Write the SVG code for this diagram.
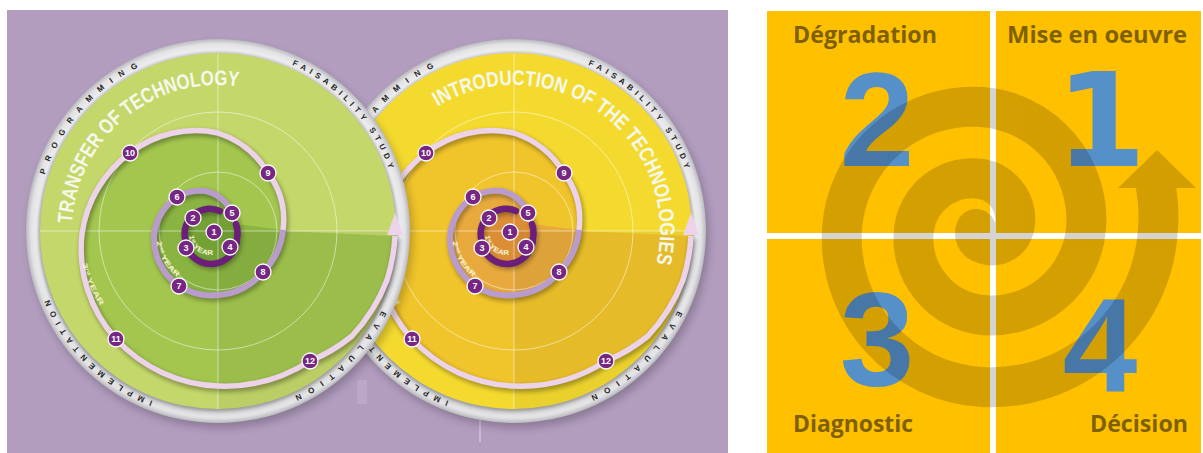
<svg xmlns="http://www.w3.org/2000/svg" width="1203" height="453" viewBox="0 0 1203 453">
<defs>
<style>
.rt{font-family:'Liberation Sans',Arial,sans-serif;font-weight:bold;font-size:8px;fill:#262626}
.ttl{font-family:'Liberation Sans Narrow','Liberation Sans',Arial,sans-serif;font-weight:bold;font-size:21px;fill:#f7f8ec}
.nd circle{fill:#772783;stroke:#fff;stroke-width:1.3}
.nd text{font-family:'Liberation Sans',Arial,sans-serif;font-weight:bold;font-size:9px;fill:#fff;text-anchor:middle}
.yr{font-family:'Liberation Sans',Arial,sans-serif;font-weight:bold;font-size:7px;fill:#f5f2d0}
.gd{stroke:#fff;stroke-opacity:.5;stroke-width:1;fill:none}
.lbl{font-family:'Open Sans','Liberation Sans',sans-serif;font-weight:bold;font-size:23px;fill:#7f6000}
.big{font-family:'Liberation Sans',Arial,sans-serif;font-weight:bold;font-size:134px;fill:#5590c8;text-anchor:middle}
</style>
<radialGradient id="ring" cx=".5" cy=".5" r=".5">
<stop offset=".92" stop-color="#c6c6ca"/>
<stop offset=".945" stop-color="#ededef"/>
<stop offset=".975" stop-color="#e2e2e5"/>
<stop offset="1" stop-color="#b8b8be"/>
</radialGradient>
<filter id="b4" x="-20%" y="-20%" width="140%" height="140%"><feGaussianBlur stdDeviation="4"/></filter>
<filter id="b2" x="-20%" y="-20%" width="140%" height="140%"><feGaussianBlur stdDeviation="2"/></filter>
<clipPath id="dc"><circle cx="218" cy="231" r="178"/></clipPath>
<path id="regA" d="M283 231A78 78 0 0 0 268 173A92 92 0 0 0 218 133A107 107 0 0 0 130 153A121 121 0 0 0 82 234A134 134 0 0 0 116 339A146 146 0 0 0 218 386A157 157 0 0 0 310 361A168 168 0 0 0 352 336A175 175 0 0 0 387 280A180 180 0 0 0 395 236Z"/>
<path id="regB" d="M236 224A29 29 0 0 0 232 213A37 37 0 0 0 205 191A46 46 0 0 0 177 197A53 53 0 0 0 154 236A58 58 0 0 0 179 286A61 61 0 0 0 218 295A63 63 0 0 0 263 272A69 69 0 0 0 283 230Z"/>
<path id="sp1" d="M220 211A25 25 0 0 0 185 238A26 26 0 0 0 237 238A26 26 0 0 0 236 224"/>
<path id="sp2" d="M236 224A29 29 0 0 0 232 213A37 37 0 0 0 205 191A46 46 0 0 0 177 197A53 53 0 0 0 154 236A58 58 0 0 0 179 286A61 61 0 0 0 218 295A63 63 0 0 0 263 272A69 69 0 0 0 283 230"/>
<path id="sp3" d="M283 230A78 78 0 0 0 268 173A92 92 0 0 0 218 133A107 107 0 0 0 130 153A121 121 0 0 0 82 234A134 134 0 0 0 116 339A146 146 0 0 0 218 386A157 157 0 0 0 310 361A168 168 0 0 0 352 336A175 175 0 0 0 387 280A180 180 0 0 0 395 236"/>
<path id="rp1" d="M44.9 174.8A182 182 0 0 1 138.2 67.4"/>
<path id="rp2" d="M292 64.7A182 182 0 0 1 389 168.8"/>
<path id="rp3" d="M381.6 310.8A182 182 0 0 1 294.9 395.9"/>
<path id="rp4" d="M152.8 400.9A182 182 0 0 1 49.3 299.2"/>
<path id="y1p" d="M189.1 235.8A21 21 0 0 0 214.4 254.5"/>
<path id="y2p" d="M156.5 241.5A54 54 0 0 0 178.3 277.7"/>
<path id="y3p" d="M82.4 263.5A131 131 0 0 0 101.4 307.3"/>
<path id="tL" d="M72.2 223.4A146 146 0 0 1 238.3 86.4"/>
<path id="tR" d="M141.7 106.5A146 146 0 0 1 360.4 263.3"/>
<g id="ringText" class="rt">
<text><textPath href="#rp1" textLength="146" lengthAdjust="spacing">PROGRAMMING</textPath></text>
<text><textPath href="#rp2" textLength="146" lengthAdjust="spacing">FAISABILITY STUDY</textPath></text>
<text><textPath href="#rp3" textLength="124" lengthAdjust="spacing">EVALUATION</textPath></text>
<text><textPath href="#rp4" textLength="149" lengthAdjust="spacing">IMPLEMENTATION</textPath></text>
</g>
<g id="decor">
<path d="M218 231H400V420H218Z" fill="#000" opacity=".045" clip-path="url(#dc)"/>
<path class="gd" d="M218 54V409M40 231H396"/>
<circle class="gd" cx="218" cy="231" r="59"/>
<circle class="gd" cx="218" cy="231" r="119"/>
<g filter="url(#b2)" opacity=".3" transform="translate(1.5,2.5)" fill="none" stroke="#000" stroke-width="7">
<use href="#sp1"/><use href="#sp2"/><use href="#sp3"/>
</g>
<use href="#sp3" fill="none" stroke="#edd3e9" stroke-width="5.5"/>
<polygon points="395,213 387,235 403,235" fill="#edd3e9"/>
<use href="#sp2" fill="none" stroke="#b99ccb" stroke-width="6"/>
<use href="#sp1" fill="none" stroke="#6b1e7a" stroke-width="6.5" stroke-linecap="round"/>
<text class="yr"><textPath href="#y1p" textLength="34" lengthAdjust="spacingAndGlyphs">1<tspan font-size="4.5" baseline-shift="super">st</tspan> YEAR</textPath></text>
<text class="yr"><textPath href="#y2p" textLength="42" lengthAdjust="spacingAndGlyphs">2<tspan font-size="4.5" baseline-shift="super">nd</tspan> YEAR</textPath></text>
<text class="yr"><textPath href="#y3p" textLength="46" lengthAdjust="spacingAndGlyphs">3<tspan font-size="4.5" baseline-shift="super">rd</tspan> YEAR</textPath></text>
<g class="nd" id="n1"><circle cx="214" cy="232" r="8"/><text x="214" y="235.3">1</text></g>
<g class="nd" id="n2"><circle cx="193" cy="218" r="8"/><text x="193" y="221.3">2</text></g>
<g class="nd" id="n3"><circle cx="186" cy="248" r="8"/><text x="186" y="251.3">3</text></g>
<g class="nd" id="n4"><circle cx="230" cy="247" r="8"/><text x="230" y="250.3">4</text></g>
<g class="nd" id="n5"><circle cx="232" cy="213" r="8"/><text x="232" y="216.3">5</text></g>
<g class="nd" id="n6"><circle cx="177" cy="197" r="8"/><text x="177" y="200.3">6</text></g>
<g class="nd" id="n7"><circle cx="179" cy="286" r="8"/><text x="179" y="289.3">7</text></g>
<g class="nd" id="n8"><circle cx="263" cy="272" r="8"/><text x="263" y="275.3">8</text></g>
<g class="nd" id="n9"><circle cx="268" cy="173" r="8"/><text x="268" y="176.3">9</text></g>
<g class="nd" id="n10"><circle cx="130" cy="153" r="8"/><text x="130" y="156" font-size="8">10</text></g>
<g class="nd" id="n11"><circle cx="116" cy="339" r="8"/><text x="116" y="342" font-size="8">11</text></g>
<g class="nd" id="n12"><circle cx="310" cy="361" r="8"/><text x="310" y="364" font-size="8">12</text></g>
</g>
</defs>

<rect id="bg-left" x="7" y="10" width="721" height="443" fill="#b29dbf"/>
<rect x="357" y="380" width="10" height="24" fill="#fff" opacity=".12"/>
<line x1="480" y1="419" x2="480" y2="442" stroke="#fff" stroke-opacity=".6"/>

<g id="circle-right" transform="translate(296,0)">
<circle cx="221" cy="236" r="192" fill="#000" opacity=".22" filter="url(#b4)"/>
<circle cx="218" cy="231" r="192" fill="url(#ring)"/>
<use href="#ringText"/>
<circle cx="218" cy="234" r="179" fill="#000" opacity=".25" filter="url(#b2)"/>
<circle cx="218" cy="231" r="178" fill="#f4da2f"/>
<use href="#regA" fill="#f0c42b"/>
<use href="#regB" fill="#e9aa3d"/>
<circle cx="210" cy="236" r="26" fill="#dc8e36"/>
<use href="#decor"/>
<text class="ttl"><textPath href="#tR" textLength="342" lengthAdjust="spacingAndGlyphs">INTRODUCTION OF THE TECHNOLOGIES</textPath></text>
</g>

<g id="circle-left">
<circle cx="221" cy="236" r="192" fill="#000" opacity=".22" filter="url(#b4)"/>
<circle cx="218" cy="231" r="192" fill="url(#ring)"/>
<use href="#ringText"/>
<circle cx="218" cy="234" r="179" fill="#000" opacity=".25" filter="url(#b2)"/>
<circle cx="218" cy="231" r="178" fill="#c4d76a"/>
<use href="#regA" fill="#a3c64f"/>
<use href="#regB" fill="#8ab442"/>
<circle cx="210" cy="236" r="26" fill="#73a136"/>
<use href="#decor"/>
<text class="ttl"><textPath href="#tL" textLength="242" lengthAdjust="spacingAndGlyphs">TRANSFER OF TECHNOLOGY</textPath></text>
</g>

<g id="panel-right">
<rect x="767" y="11" width="434" height="442" fill="#ffc000"/>
<rect x="990" y="11" width="6" height="442" fill="#fff"/>
<rect x="767" y="233" width="434" height="6" fill="#fff"/>
<text class="big" x="877" y="166">2</text>
<text class="big" x="1101" y="166" style="font-family:'DejaVu Sans',sans-serif;font-size:130px">1</text>
<text class="big" x="877" y="386">3</text>
<text class="big" x="1100" y="392">4</text>
<text class="lbl" x="793" y="43" textLength="144" lengthAdjust="spacingAndGlyphs">Dégradation</text>
<text class="lbl" x="1007" y="43" textLength="180" lengthAdjust="spacingAndGlyphs">Mise en oeuvre</text>
<text class="lbl" x="793" y="432" textLength="120" lengthAdjust="spacingAndGlyphs">Diagnostic</text>
<text class="lbl" x="1090" y="432" textLength="98" lengthAdjust="spacingAndGlyphs">Décision</text>
<g id="spiral-arrow" opacity=".17">
<path d="M976 229A10 10 0 0 0 982 243A23 23 0 0 0 1014 229A41 41 0 0 0 982 179A59 59 0 0 0 914 229A77 77 0 0 0 982 315A95 95 0 0 0 1086 229A113 113 0 0 0 982 107A131 131 0 0 0 842 229A149 149 0 0 0 982 387A167 167 0 0 0 1158 229A177 177 0 0 0 1156 187" fill="none" stroke="#000" stroke-width="40" stroke-linecap="round"/>
<polygon points="1157,150 1196,188 1118,188" fill="#000"/>
</g>
</g>
</svg>
